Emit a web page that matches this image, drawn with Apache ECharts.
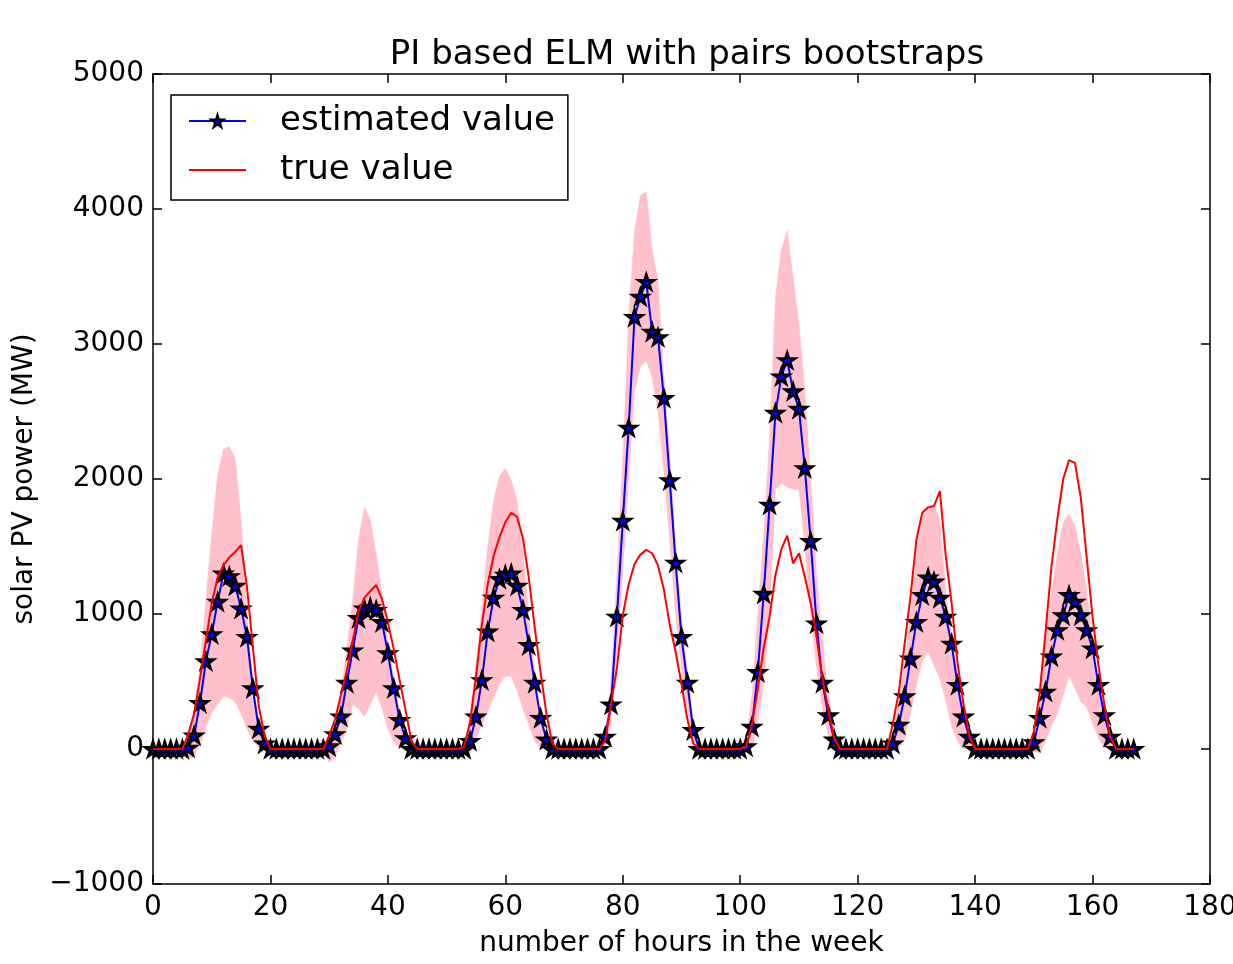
<!DOCTYPE html>
<html>
<head>
<meta charset="utf-8">
<title>PI based ELM with pairs bootstraps</title>
<script src="https://cdn.jsdelivr.net/npm/echarts@6/dist/echarts.min.js"></script>
<style>
  html, body { margin: 0; padding: 0; background: #fff; }
  #chart { width: 1233px; height: 964px; }
</style>
</head>
<body>
<div id="chart"></div>
<script>
// hours 0..167, one value per hour
const hours = Array.from({ length: 168 }, (_, i) => i);

const estimated = [
  0, 0, 0, 0, 0, 0, 10, 100, 340, 650, 850, 1090,
  1300, 1280, 1210, 1040, 830, 450, 150, 40, 0, 0, 0, 0,
  0, 0, 0, 0, 0, 0, 20, 110, 240, 490, 730, 970,
  1040, 1050, 1030, 940, 710, 450, 215, 80, 0, 0, 0, 0,
  0, 0, 0, 0, 0, 0, 60, 240, 510, 870, 1120, 1260,
  1290, 1300, 1210, 1030, 770, 490, 230, 70, 0, 0, 0, 0,
  0, 0, 0, 0, 0, 90, 330, 980, 1690, 2380, 3200, 3350,
  3460, 3090, 3050, 2600, 1990, 1380, 830, 490, 140, 0, 0, 0,
  0, 0, 0, 0, 0, 20, 165, 570, 1150, 1810, 2490, 2760,
  2880, 2650, 2520, 2080, 1540, 930, 490, 250, 70, 0, 0, 0,
  0, 0, 0, 0, 0, 0, 40, 180, 390, 670, 940, 1140,
  1270, 1240, 1120, 980, 780, 475, 240, 90, 0, 0, 0, 0,
  0, 0, 0, 0, 0, 0, 50, 230, 425, 685, 880, 990,
  1140, 1090, 990, 880, 745, 475, 250, 90, 0, 0, 0, 0
];

const trueValue = [
  0, 0, 0, 0, 0, 0, 110, 260, 520, 800, 1080, 1270,
  1360, 1420, 1460, 1510, 1200, 760, 320, 100, 0, 0, 0, 0,
  0, 0, 0, 0, 0, 0, 100, 220, 400, 580, 800, 1020,
  1120, 1170, 1215, 1110, 940, 740, 510, 290, 60, 0, 0, 0,
  0, 0, 0, 0, 0, 20, 200, 536, 920, 1220, 1430, 1570,
  1680, 1750, 1720, 1560, 1270, 900, 570, 260, 40, 0, 0, 0,
  0, 0, 0, 0, 0, 60, 330, 600, 990, 1220, 1370, 1440,
  1475, 1450, 1360, 1180, 920, 720, 480, 220, 40, 0, 0, 0,
  0, 0, 0, 0, 0, 20, 180, 450, 750, 980, 1290, 1480,
  1580, 1375, 1450, 1276, 1080, 830, 520, 290, 80, 0, 0, 0,
  0, 0, 0, 0, 0, 0, 190, 420, 780, 1130, 1550, 1750,
  1790, 1800, 1910, 1430, 1080, 640, 340, 100, 0, 0, 0, 0,
  0, 0, 0, 0, 0, 0, 130, 420, 870, 1350, 1700, 2000,
  2140, 2120, 1860, 1420, 980, 620, 330, 90, 0, 0, 0, 0
];

// prediction interval, lower and upper bound
const lowerBound = [
  0, 0, 0, 0, 0, -30, -80, -50, 30, 150, 270, 330,
  390, 380, 350, 260, 150, 70, 10, 0, 0, 0, 0, 0,
  0, 0, 0, 0, 0, -20, -100, -60, 40, 150, 330, 300,
  240, 330, 420, 300, 150, 50, 10, 0, 0, 0, 0, 0,
  0, 0, 0, 0, 0, -30, -40, 80, 180, 280, 380, 480,
  540, 540, 430, 300, 180, 60, 0, 0, 0, 0, 0, 0,
  0, 0, 0, 0, 0, 0, 200, 700, 1300, 2000, 2650, 2830,
  2880, 2750, 2500, 2050, 1550, 1000, 600, 300, 60, 0, 0, 0,
  0, 0, 0, 0, 0, 0, 0, 200, 500, 1000, 1920, 1970,
  1940, 1925, 1920, 1500, 1000, 600, 300, 100, 0, 0, 0, 0,
  0, 0, 0, 0, 0, 0, 0, 0, 80, 260, 470, 650,
  720, 620, 520, 360, 170, 60, 0, 0, 0, 0, 0, 0,
  0, 0, 0, 0, 0, 0, -20, -30, 60, 170, 260, 400,
  540, 450, 350, 310, 190, 80, 10, 0, 0, 0, 0, 0
];

const upperBound = [
  0, 0, 0, 0, 0, 0, 100, 300, 600, 1100, 1600, 2030,
  2220, 2240, 2150, 1700, 1000, 500, 200, 60, 0, 0, 0, 0,
  0, 0, 0, 0, 0, 0, 30, 150, 400, 750, 1100, 1550,
  1790, 1700, 1450, 1150, 800, 530, 250, 90, 0, 0, 0, 0,
  0, 0, 0, 0, 0, 20, 250, 620, 1050, 1500, 1840, 2020,
  2080, 1990, 1840, 1470, 980, 560, 250, 80, 0, 0, 0, 0,
  0, 0, 0, 0, 0, 150, 500, 1300, 2150, 3200, 3840, 4100,
  4130, 3700, 3470, 2750, 2190, 1500, 950, 580, 200, 30, 0, 0,
  0, 0, 0, 0, 0, 60, 400, 1000, 1600, 2300, 3350, 3700,
  3840, 3500, 3150, 2650, 2000, 1300, 800, 400, 150, 0, 0, 0,
  0, 0, 0, 0, 0, 0, 80, 350, 620, 1000, 1450, 1700,
  1790, 1810, 1700, 1150, 850, 560, 300, 110, 0, 0, 0, 0,
  0, 0, 0, 0, 0, 0, 100, 400, 800, 1150, 1450, 1680,
  1740, 1650, 1450, 1180, 780, 500, 280, 100, 0, 0, 0, 0
];

const xTicks = { min: 0, max: 180, interval: 20 };
const yTicks = { min: -1000, max: 5000, interval: 1000 };

const FONT = 'DejaVu Sans';
const STAR = 'path://M50,0 L61,35 L98,35 L68,57 L79,91 L50,70 L21,91 L32,57 L2,35 L39,35 Z';

const chart = echarts.init(document.getElementById('chart'));

const axisCommon = {
  axisLine: { show: true, onZero: false, lineStyle: { color: '#000', width: 1.5 } },
  axisTick: { show: true, inside: true, length: 9, lineStyle: { color: '#000', width: 1.5 } },
  splitLine: { show: false }
};

// shaded interval: one polygon, upper edge forward then lower edge back
function renderBand(params, api) {
  if (params.dataIndex !== 0) return null;
  const pts = [];
  for (let i = 0; i < hours.length; i++) pts.push(api.coord([hours[i], upperBound[i]]));
  for (let i = hours.length - 1; i >= 0; i--) pts.push(api.coord([hours[i], lowerBound[i]]));
  return {
    type: 'polygon',
    shape: { points: pts },
    style: { fill: '#ffc0cb', stroke: '#ffc0cb', lineWidth: 0.5 }
  };
}

const option = {
  animation: false,
  backgroundColor: '#fff',
  title: {
    text: 'PI based ELM with pairs bootstraps',
    left: 682,
    textAlign: 'center',
    top: 33,
    textStyle: { fontFamily: FONT, fontSize: 34, fontWeight: 'normal', color: '#000' }
  },
  legend: {
    data: [
      { name: 'estimated value' },
      { name: 'true value', itemStyle: { opacity: 0 } }
    ],
    orient: 'vertical',
    left: 171,
    top: 95,
    padding: [9, 13, 13, 17],
    borderColor: '#000',
    borderWidth: 1.5,
    itemWidth: 57,
    itemHeight: 16,
    itemGap: 15,
    textStyle: { fontFamily: FONT, fontSize: 34, color: '#000', lineHeight: 34, padding: [0, 0, 0, 29] }
  },
  grid: { left: 153, right: 23, top: 74, bottom: 80, containLabel: false, outerBoundsMode: 'none' },
  xAxis: [
    Object.assign({}, axisCommon, {
      type: 'value', position: 'bottom',
      min: xTicks.min, max: xTicks.max, interval: xTicks.interval,
      name: 'number of hours in the week',
      nameLocation: 'middle', nameGap: 46,
      nameTextStyle: { fontFamily: FONT, fontSize: 28, color: '#000' },
      axisLabel: { fontFamily: FONT, fontSize: 28, color: '#000', margin: 10 }
    }),
    Object.assign({}, axisCommon, {
      type: 'value', position: 'top',
      min: xTicks.min, max: xTicks.max, interval: xTicks.interval,
      axisLabel: { show: false }
    })
  ],
  yAxis: [
    Object.assign({}, axisCommon, {
      type: 'value', position: 'left',
      min: yTicks.min, max: yTicks.max, interval: yTicks.interval,
      name: 'solar PV power (MW)',
      nameLocation: 'middle', nameGap: 111, nameRotate: 90,
      nameTextStyle: { fontFamily: FONT, fontSize: 28, color: '#000' },
      axisLabel: {
        fontFamily: FONT, fontSize: 28, color: '#000', margin: 9,
        formatter: v => String(v).replace('-', '\u2212')
      }
    }),
    Object.assign({}, axisCommon, {
      type: 'value', position: 'right',
      min: yTicks.min, max: yTicks.max, interval: yTicks.interval,
      axisLabel: { show: false }
    })
  ],
  series: [
    {
      name: 'prediction interval',
      type: 'custom',
      renderItem: renderBand,
      data: hours.map((h, i) => [h, lowerBound[i], upperBound[i]]),
      encode: { x: 0, y: [1, 2] },
      silent: true,
      z: 1
    },
    {
      name: 'estimated value',
      type: 'line',
      data: hours.map((h, i) => [h, estimated[i]]),
      color: '#0000ff',
      lineStyle: { color: '#0000ff', width: 2 },
      symbol: STAR,
      symbolSize: 16,
      symbolKeepAspect: true,
      showAllSymbol: true,
      itemStyle: { color: '#0000ff', borderColor: '#000', borderWidth: 2.5 },
      z: 3
    },
    {
      name: 'true value',
      type: 'line',
      data: hours.map((h, i) => [h, trueValue[i]]),
      color: '#ff0000',
      lineStyle: { color: '#ff0000', width: 2 },
      symbol: 'none',
      z: 4
    }
  ]
};

chart.setOption(option);
</script>
</body>
</html>
